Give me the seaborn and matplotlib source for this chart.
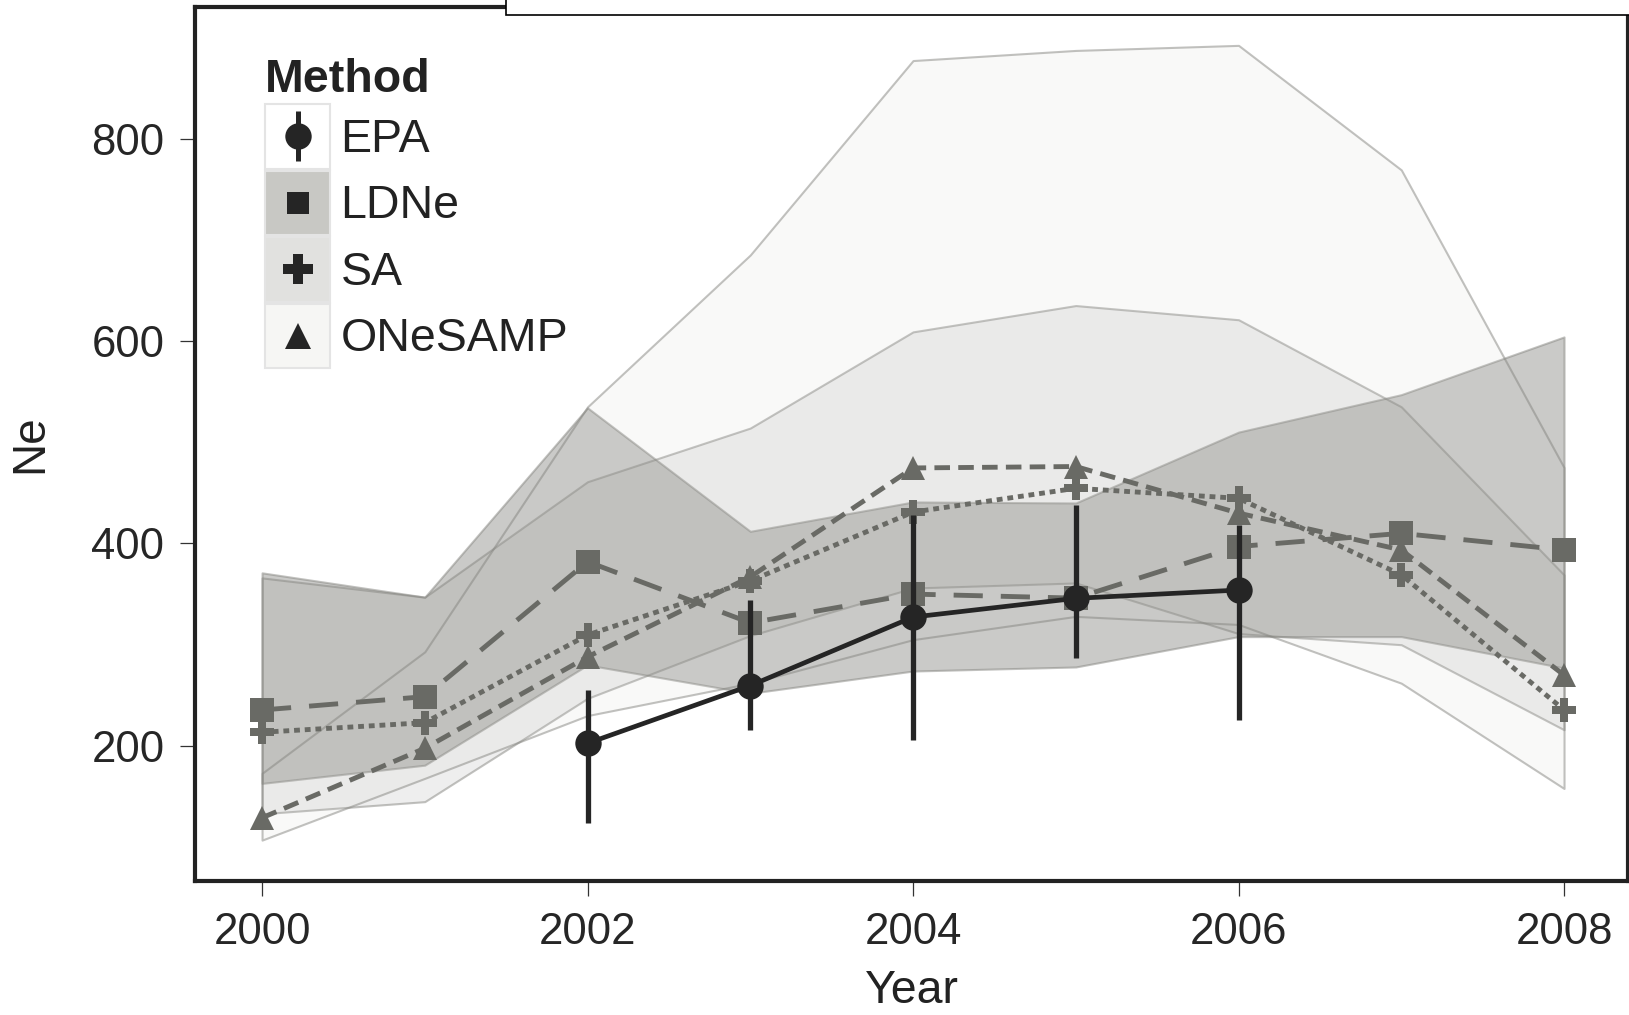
import numpy as np
import pandas as pd
import matplotlib
matplotlib.use("Agg")
import matplotlib.pyplot as plt
import seaborn as sns
from matplotlib.patches import Rectangle
from matplotlib.lines import Line2D
from matplotlib.legend_handler import HandlerBase

# ---------------- data ----------------
years = [2000, 2001, 2002, 2003, 2004, 2005, 2006, 2007, 2008]

ldne = [235.5, 248.7, 382, 321.6, 350, 346, 397, 410, 393.6]
sa = [213.5, 223, 309.6, 363, 431, 454.5, 444.6, 369, 235.6]
onesamp = [129, 197.7, 288, 367, 474.6, 476, 430, 393.6, 270]

ldne_lo = [163, 181, 280, 252, 274, 278, 308, 308, 277]
ldne_hi = [371, 347, 534, 412, 441, 440, 510, 547, 604]
sa_lo = [133, 145, 247, 309, 356, 361, 311, 300, 216]
sa_hi = [366, 347, 461, 514, 609, 635, 621, 535, 369]
one_lo = [107, 168, 230, 262, 305, 328, 320, 262, 158]
one_hi = [173, 293, 535, 685, 877, 887, 892, 769, 475]

epa_years = [2002, 2003, 2004, 2005, 2006]
epa = [202.6, 259.6, 327.3, 345.8, 354]
epa_lo = [123.6, 215.8, 206.3, 286.6, 225.7]
epa_hi = [255.3, 344.2, 428, 438, 418.3]

methods = ["EPA", "LDNe", "SA", "ONeSAMP"]
x_ticks = [2000, 2002, 2004, 2006, 2008]
y_ticks = [200, 400, 600, 800]

# ---------------- style ----------------
sns.set_theme(style="ticks")
plt.rcParams["font.family"] = ["Liberation Sans", "DejaVu Sans"]

W, H = 1629, 1015
fig = plt.figure(figsize=(W / 100, H / 100), dpi=100)
ax = fig.add_axes([195 / W, (H - 881) / H, (1628 - 195) / W, (881 - 7) / H])

line_col = "#696a65"
epa_col = "#252525"
edge_rgba = (0.52, 0.52, 0.50, 0.5)

# ribbons (confidence intervals)
bands = [
    (ldne_lo, ldne_hi, (0.37, 0.37, 0.35, 0.33)),
    (sa_lo, sa_hi, (0.55, 0.55, 0.53, 0.143)),
    (one_lo, one_hi, (0.78, 0.78, 0.76, 0.10)),
]
for lo, hi, fc in bands:
    ax.fill_between(years, lo, hi, facecolor=fc, edgecolor=edge_rgba,
                    linewidth=1.5, zorder=1)

# method lines
df = pd.DataFrame({
    "Year": years * 3,
    "Ne": ldne + sa + onesamp,
    "Method": ["LDNe"] * 9 + ["SA"] * 9 + ["ONeSAMP"] * 9,
})
sns.lineplot(
    data=df, x="Year", y="Ne", hue="Method", style="Method",
    palette={"LDNe": line_col, "SA": line_col, "ONeSAMP": line_col},
    markers={"LDNe": "s", "SA": "P", "ONeSAMP": "^"},
    dashes={"LDNe": (6.0, 3.7), "SA": (1.2, 1.0), "ONeSAMP": (3.2, 1.7)},
    linewidth=3.5, markersize=17, markeredgewidth=0,
    legend=False, ax=ax, zorder=3,
)

# EPA
ax.vlines(epa_years, epa_lo, epa_hi, color=epa_col, linewidth=3.8, zorder=4)
sns.lineplot(x=epa_years, y=epa, color=epa_col, marker="o", markersize=19,
             markeredgewidth=0, linewidth=3.4, ax=ax, zorder=5, legend=False)

# axes
ax.set_xlim(1999.588, 2008.393)
ax.set_ylim(66.6, 929.9)
ax.set_xticks(x_ticks)
ax.set_yticks(y_ticks)
ax.set_xticklabels([str(t) for t in x_ticks])
ax.set_yticklabels([str(t) for t in y_ticks])
ax.tick_params(axis="both", length=11, width=0.9, color="#333333",
               labelsize=31.5, labelcolor="#262626", pad=11)
for s in ax.spines.values():
    s.set_linewidth(3.0)
    s.set_color("#222222")
ax.set_xlabel("Year", fontsize=33.5, color="#222222", labelpad=12)
ax.set_ylabel("Ne", fontsize=33, color="#222222", labelpad=28)


# legend with ggplot-like keys
class Key:
    def __init__(self, fc, marks):
        self.fc = fc
        self.marks = marks


class KeyHandler(HandlerBase):
    def create_artists(self, legend, orig_handle, xdescent, ydescent,
                       width, height, fontsize, trans):
        x0, y0 = -xdescent, -ydescent
        arts = [Rectangle((x0, y0), width, height, facecolor=orig_handle.fc,
                          edgecolor="#e4e4e4", linewidth=1.5, transform=trans)]
        cx, cy = x0 + width / 2, y0 + height / 2
        for m, ms, mew in orig_handle.marks:
            arts.append(Line2D([cx], [cy], marker=m, markersize=ms,
                               markeredgewidth=mew, color=epa_col,
                               linestyle="none", transform=trans))
        return arts


key_fc = {"EPA": "#ffffff", "LDNe": "#c8c8c4", "SA": "#e1e1df", "ONeSAMP": "#f6f6f4"}
key_marks = {
    "EPA": [("|", 36, 3.6), ("o", 19, 0)],
    "LDNe": [("s", 16, 0)],
    "SA": [("P", 21, 0)],
    "ONeSAMP": [("^", 19, 0)],
}
handles = [Key(key_fc[m], key_marks[m]) for m in methods]

leg = ax.legend(
    handles, methods, title="Method", loc="upper left",
    bbox_to_anchor=(0.049, 0.9413), frameon=False,
    handler_map={Key: KeyHandler()},
    handlelength=1.40, handleheight=1.76, labelspacing=0.04,
    handletextpad=0.22, borderpad=0, borderaxespad=0,
    prop={"size": 33.5}, title_fontproperties={"size": 33.5, "weight": "bold"},
    alignment="left",
)
for t in leg.get_texts():
    t.set_color("#222222")
leg.get_title().set_color("#222222")

# overlapping panel box at the top
fig.add_artist(Rectangle((506 / W, (H - 14.5) / H), 1.2, 0.2,
                         transform=fig.transFigure, facecolor="white",
                         edgecolor="black", linewidth=1.2, zorder=10))

fig.savefig("out.png", dpi=100)
